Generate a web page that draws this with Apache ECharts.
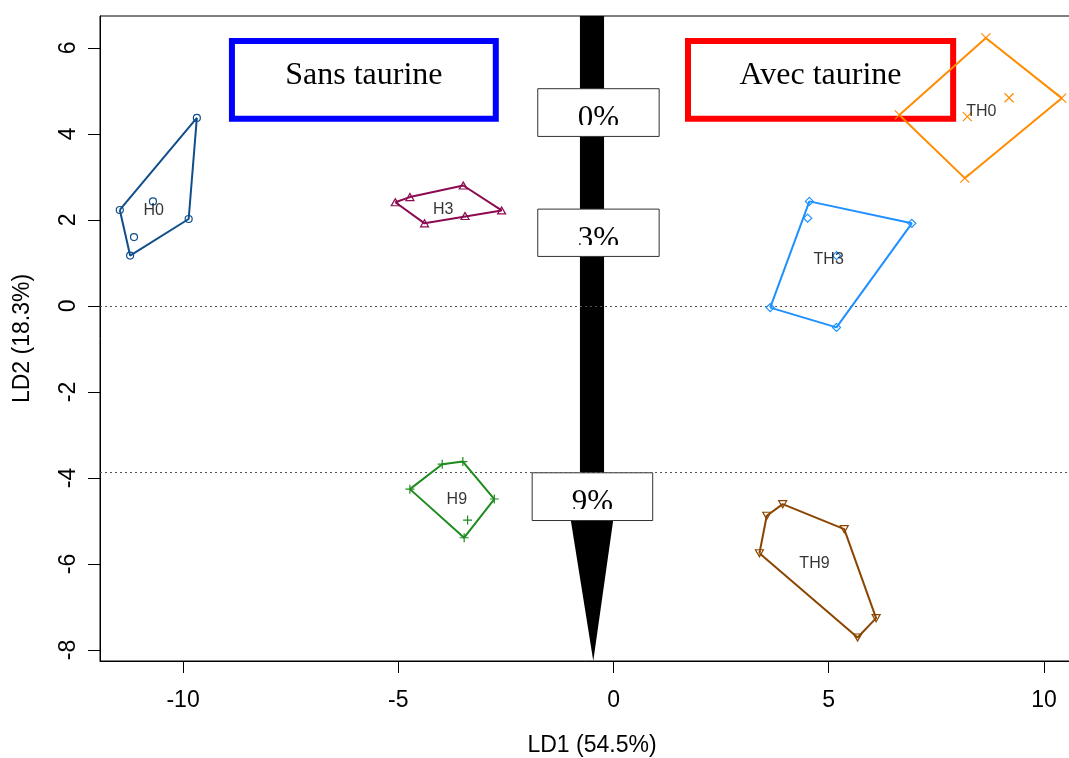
<!DOCTYPE html>
<html>
<head>
<meta charset="utf-8">
<script src="https://cdn.jsdelivr.net/npm/echarts@6/dist/echarts.min.js"></script>
<style>html,body{margin:0;padding:0;background:#fff}#c{width:1069px;height:758px}</style>
</head>
<body>
<div id="c"></div>
<script>
// ---- data (LD1, LD2 scores) ----
const groupNames = ['H0', 'H3', 'H9', 'TH0', 'TH3', 'TH9'];
const ptsH0  = [[-9.68, 4.37], [-11.47, 2.23], [-11.23, 1.17], [-9.87, 2.02], [-10.70, 2.43], [-11.14, 1.60]];
const ptsH3  = [[-5.07, 2.41], [-4.73, 2.53], [-3.49, 2.80], [-2.60, 2.22], [-3.45, 2.09], [-4.39, 1.92]];
const ptsH9  = [[-3.98, -3.68], [-3.50, -3.62], [-2.77, -4.49], [-3.47, -5.39], [-4.73, -4.26], [-3.39, -4.98]];
const ptsTH0 = [[8.65, 6.23], [10.41, 4.83], [8.16, 2.97], [6.64, 4.44], [9.19, 4.84], [8.22, 4.40]];
const ptsTH3 = [[4.55, 2.43], [6.93, 1.92], [5.18, -0.50], [3.64, -0.04], [4.51, 2.04], [5.18, 1.17]];
const ptsTH9 = [[3.93, -4.61], [5.36, -5.19], [6.10, -7.26], [5.67, -7.71], [3.39, -5.75], [3.56, -4.88]];
const xTicks = [-10, -5, 0, 5, 10];
const yTicks = [-8, -6, -4, -2, 0, 2, 4, 6];
const refLinesY = [0, -3.86];
// dose annotation boxes (data units): centre x, centre y, width, height
const doseLabels = ['0%', '3%', '9%'];
const doseBoxX = [-0.35, -0.35, -0.49];
const doseBoxY = [4.495, 1.70, -4.435];
const doseBoxW = [2.82, 2.82, 2.80];
const doseBoxH = [1.11, 1.10, 1.11];
// arrow (data units)
const arrowX = -0.50, arrowShaftW = 0.56, arrowHeadY = -5.0, arrowHeadW = 0.98;
// treatment boxes (data units)
const treatLabels = ['Sans taurine', 'Avec taurine'];
const treatBoxX = [-5.80, 4.81];
const treatBoxY = [5.256, 5.256];
const treatBoxW = [6.13, 6.16];
const treatBoxH = [1.81, 1.81];

const X_MIN = -11.93, X_MAX = 10.93, Y_MIN = -8.256, Y_MAX = 6.74;

// ---- styles ----
const groupPts = [ptsH0, ptsH3, ptsH9, ptsTH0, ptsTH3, ptsTH9];
const colors = ['#104E8B', '#8B0A50', '#1E8B1E', '#FF8C00', '#1E90FF', '#8B4500'];
const symbols = [
  'path://M1,0A1,1,0,1,1,-1,0A1,1,0,1,1,1,0Z',
  'path://M0,-1L0.866,0.5L-0.866,0.5Z',
  'path://M0,-1L0,1M-1,0L1,0',
  'path://M-1,-1L1,1M-1,1L1,-1',
  'path://M0,-1L1,0L0,1L-1,0Z',
  'path://M0,1L0.866,-0.5L-0.866,-0.5Z'
];
const symSizes = [7, [8, 7], 9, 9, 8, [8, 7]];

function hull(points) {
  const p = points.slice().sort((a, b) => a[0] - b[0] || a[1] - b[1]);
  const cross = (o, a, b) => (a[0] - o[0]) * (b[1] - o[1]) - (a[1] - o[1]) * (b[0] - o[0]);
  const lower = [], upper = [];
  for (const q of p) { while (lower.length >= 2 && cross(lower[lower.length - 2], lower[lower.length - 1], q) <= 0) lower.pop(); lower.push(q); }
  for (let i = p.length - 1; i >= 0; i--) { const q = p[i]; while (upper.length >= 2 && cross(upper[upper.length - 2], upper[upper.length - 1], q) <= 0) upper.pop(); upper.push(q); }
  upper.pop(); lower.pop();
  const h = lower.concat(upper);
  h.push(h[0]);
  return h;
}
function centroid(points) {
  let sx = 0, sy = 0;
  points.forEach(q => { sx += q[0]; sy += q[1]; });
  return [sx / points.length, sy / points.length];
}

const series = [];
// reference dotted lines
series.push({
  type: 'line', data: [], silent: true, z: 1,
  markLine: {
    silent: true, symbol: ['none', 'none'], label: { show: false },
    lineStyle: { type: [2, 3], color: '#555', width: 1 },
    data: refLinesY.map(v => ({ yAxis: v }))
  }
});
// arrow
series.push({
  type: 'custom', z: 2, silent: true, clip: true,
  data: [[arrowX]],
  renderItem: function (params, api) {
    const tl = api.coord([arrowX - arrowShaftW / 2, Y_MAX]);
    const br = api.coord([arrowX + arrowShaftW / 2, arrowHeadY]);
    const h1 = api.coord([arrowX - arrowHeadW / 2, arrowHeadY]);
    const h2 = api.coord([arrowX + arrowHeadW / 2, arrowHeadY]);
    const tip = api.coord([arrowX + 0.03, Y_MIN]);
    return {
      type: 'group', children: [
        { type: 'rect', shape: { x: tl[0], y: tl[1], width: br[0] - tl[0], height: br[1] - tl[1] }, style: { fill: '#000' } },
        { type: 'polygon', shape: { points: [h1, h2, tip] }, style: { fill: '#000' } }
      ]
    };
  }
});
// dose boxes
series.push({
  type: 'custom', z: 3, silent: true, clip: false,
  data: doseLabels.map((l, i) => [doseBoxX[i], doseBoxY[i]]),
  renderItem: function (params, api) {
    const i = params.dataIndex;
    const p = api.coord([doseBoxX[i] - doseBoxW[i] / 2, doseBoxY[i] + doseBoxH[i] / 2]);
    const q = api.coord([doseBoxX[i] + doseBoxW[i] / 2, doseBoxY[i] - doseBoxH[i] / 2]);
    const w = q[0] - p[0], h = q[1] - p[1];
    return {
      type: 'group', children: [
        { type: 'rect', shape: { x: p[0], y: p[1], width: w, height: h }, style: { fill: '#fff', stroke: '#333', lineWidth: 1 } },
        {
          type: 'group',
          clipPath: { type: 'rect', shape: { x: p[0], y: p[1], width: w, height: h * 0.76 } },
          children: [{
            type: 'text',
            style: {
              x: p[0] + w / 2, y: p[1] + h * 0.64, text: doseLabels[i],
              font: '31px "Liberation Serif", "Times New Roman", serif',
              fill: '#000', align: 'center', verticalAlign: 'middle'
            }
          }]
        }
      ]
    };
  }
});
// treatment boxes
const treatColors = ['#0000FF', '#FF0000'];
series.push({
  type: 'custom', z: 4, silent: true, clip: false,
  data: treatLabels.map((l, i) => [treatBoxX[i], treatBoxY[i]]),
  renderItem: function (params, api) {
    const i = params.dataIndex;
    const p = api.coord([treatBoxX[i] - treatBoxW[i] / 2, treatBoxY[i] + treatBoxH[i] / 2]);
    const q = api.coord([treatBoxX[i] + treatBoxW[i] / 2, treatBoxY[i] - treatBoxH[i] / 2]);
    const w = q[0] - p[0], h = q[1] - p[1];
    return {
      type: 'group', children: [
        { type: 'rect', shape: { x: p[0], y: p[1], width: w, height: h }, style: { fill: 'none', stroke: treatColors[i], lineWidth: 6 } },
        {
          type: 'text',
          style: {
            x: p[0] + w / 2, y: p[1] + h * 0.45, text: treatLabels[i],
            font: '32px "Liberation Serif", "Times New Roman", serif',
            fill: '#000', align: 'center', verticalAlign: 'middle'
          }
        }
      ]
    };
  }
});
// groups: hull, points, label
groupPts.forEach((pts, g) => {
  series.push({
    type: 'line', z: 5, silent: true, data: hull(pts), showSymbol: false,
    lineStyle: { color: colors[g], width: 2 }, animation: false
  });
  series.push({
    type: 'scatter', z: 6, silent: true, data: pts,
    symbol: symbols[g], symbolSize: symSizes[g],
    itemStyle: { color: 'none', borderColor: colors[g], borderWidth: 1.2, opacity: 1 }
  });
  series.push({
    type: 'scatter', z: 7, silent: true, data: [centroid(pts)], symbolSize: 1,
    itemStyle: { color: 'rgba(0,0,0,0)' },
    label: {
      show: true, position: 'inside', offset: [0, 4], formatter: groupNames[g], color: '#000',
      fontSize: 16, fontFamily: '"Liberation Sans", Arial, sans-serif'
    }
  });
});

const axisFont = { color: '#000', fontSize: 23, fontFamily: '"Liberation Sans", Arial, sans-serif' };
const chart = echarts.init(document.getElementById('c'), null, { renderer: 'canvas' });
chart.setOption({
  animation: false,
  backgroundColor: '#fff',
  grid: { left: 100, top: 16, right: -15, bottom: 97, outerBoundsMode: 'none', containLabel: false, show: true, borderColor: '#000', borderWidth: 1, backgroundColor: 'transparent' },
  xAxis: {
    type: 'value', min: X_MIN, max: X_MAX,
    name: 'LD1 (54.5%)', nameLocation: 'middle', nameGap: 73,
    nameTextStyle: axisFont,
    axisLine: { show: true, onZero: false, lineStyle: { color: '#000', width: 1 } },
    axisTick: { show: true, length: 12, lineStyle: { color: '#000' }, customValues: xTicks },
    axisLabel: Object.assign({ margin: 28, customValues: xTicks, formatter: v => String(v) }, axisFont),
    splitLine: { show: false }
  },
  yAxis: {
    type: 'value', min: Y_MIN, max: Y_MAX,
    name: 'LD2 (18.3%)', nameLocation: 'middle', nameGap: 66, nameRotate: 90,
    nameTextStyle: axisFont,
    axisLine: { show: true, onZero: false, lineStyle: { color: '#000', width: 1 } },
    axisTick: { show: true, length: 12, lineStyle: { color: '#000' }, customValues: yTicks },
    axisLabel: Object.assign({ margin: 20, rotate: 90, customValues: yTicks, formatter: v => String(v) }, axisFont),
    splitLine: { show: false }
  },
  series: series
});
</script>
</body>
</html>
